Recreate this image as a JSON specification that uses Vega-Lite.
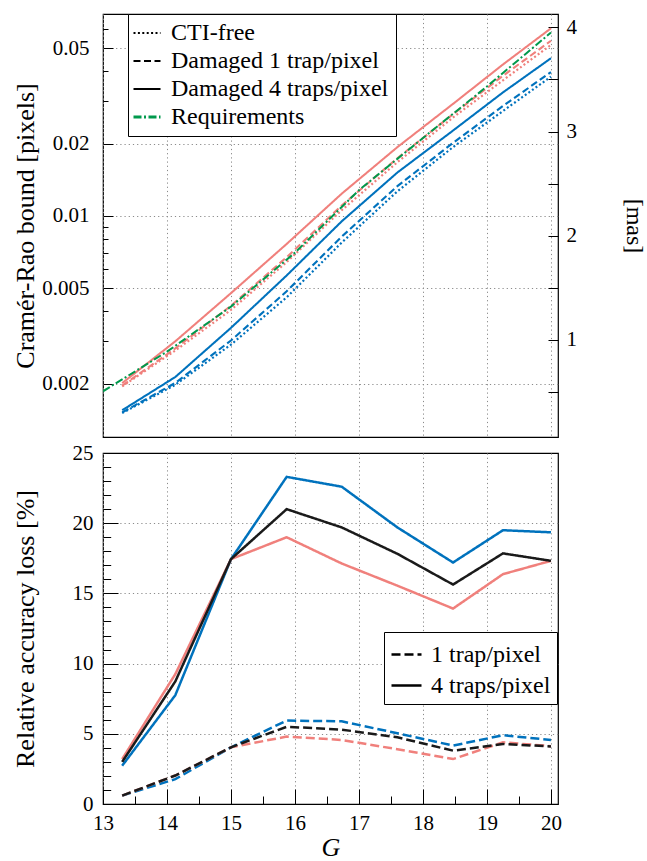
{
  "$schema": "https://vega.github.io/schema/vega-lite/v6.json",
  "background": "white",
  "padding": {"left": 11, "top": 12, "right": 0, "bottom": 0},
  "spacing": 16,
  "bounds": "flush",
  "config": {
    "font": "Liberation Serif, DejaVu Serif, serif",
    "view": {"stroke": "black", "strokeWidth": 1.2},
    "axis": {
      "labelFont": "Liberation Serif, DejaVu Serif, serif",
      "titleFont": "Liberation Serif, DejaVu Serif, serif",
      "labelColor": "black",
      "titleColor": "black",
      "titleFontWeight": "normal",
      "labelFontSize": 21,
      "titleFontSize": 26,
      "tickColor": "black",
      "tickWidth": 1,
      "domain": false,
      "gridColor": "#8a8a8a",
      "gridDash": [1.2, 3],
      "gridWidth": 1,
      "labelFlush": false,
      "labelOverlap": false,
      "labelBound": false
    },
    "legend": {
      "labelFont": "Liberation Serif, DejaVu Serif, serif",
      "labelColor": "black",
      "labelFontSize": 24,
      "labelLimit": 400,
      "fillColor": "white",
      "strokeColor": "black",
      "cornerRadius": 0,
      "symbolType": "stroke",
      "symbolStrokeColor": "black",
      "symbolStrokeWidth": 2
    }
  },
  "datasets": {
    "crb": [
      {"G": 13.3, "cfg": "A", "type": "CTI-free", "crb": 0.00151},
      {"G": 14.13, "cfg": "A", "type": "CTI-free", "crb": 0.00198},
      {"G": 15, "cfg": "A", "type": "CTI-free", "crb": 0.00291},
      {"G": 15.87, "cfg": "A", "type": "CTI-free", "crb": 0.00458},
      {"G": 16.73, "cfg": "A", "type": "CTI-free", "crb": 0.00774},
      {"G": 17.6, "cfg": "A", "type": "CTI-free", "crb": 0.01266},
      {"G": 18.47, "cfg": "A", "type": "CTI-free", "crb": 0.01934},
      {"G": 19.25, "cfg": "A", "type": "CTI-free", "crb": 0.02734},
      {"G": 20, "cfg": "A", "type": "CTI-free", "crb": 0.038},
      {"G": 13.3, "cfg": "A", "type": "Damaged 1 trap/pixel", "crb": 0.001519},
      {"G": 14.13, "cfg": "A", "type": "Damaged 1 trap/pixel", "crb": 0.002015},
      {"G": 15, "cfg": "A", "type": "Damaged 1 trap/pixel", "crb": 0.003028},
      {"G": 15.87, "cfg": "A", "type": "Damaged 1 trap/pixel", "crb": 0.004852},
      {"G": 16.73, "cfg": "A", "type": "Damaged 1 trap/pixel", "crb": 0.008196},
      {"G": 17.6, "cfg": "A", "type": "Damaged 1 trap/pixel", "crb": 0.013298},
      {"G": 18.47, "cfg": "A", "type": "Damaged 1 trap/pixel", "crb": 0.020145},
      {"G": 19.25, "cfg": "A", "type": "Damaged 1 trap/pixel", "crb": 0.02868},
      {"G": 20, "cfg": "A", "type": "Damaged 1 trap/pixel", "crb": 0.039733},
      {"G": 13.3, "cfg": "A", "type": "Damaged 4 traps/pixel", "crb": 0.001551},
      {"G": 14.13, "cfg": "A", "type": "Damaged 4 traps/pixel", "crb": 0.002133},
      {"G": 15, "cfg": "A", "type": "Damaged 4 traps/pixel", "crb": 0.003418},
      {"G": 15.87, "cfg": "A", "type": "Damaged 4 traps/pixel", "crb": 0.005647},
      {"G": 16.73, "cfg": "A", "type": "Damaged 4 traps/pixel", "crb": 0.009489},
      {"G": 17.6, "cfg": "A", "type": "Damaged 4 traps/pixel", "crb": 0.015154},
      {"G": 18.47, "cfg": "A", "type": "Damaged 4 traps/pixel", "crb": 0.022666},
      {"G": 19.25, "cfg": "A", "type": "Damaged 4 traps/pixel", "crb": 0.032671},
      {"G": 20, "cfg": "A", "type": "Damaged 4 traps/pixel", "crb": 0.045353},
      {"G": 13.3, "cfg": "B", "type": "CTI-free", "crb": 0.00195},
      {"G": 14.13, "cfg": "B", "type": "CTI-free", "crb": 0.00275},
      {"G": 15, "cfg": "B", "type": "CTI-free", "crb": 0.00406},
      {"G": 15.87, "cfg": "B", "type": "CTI-free", "crb": 0.00642},
      {"G": 16.73, "cfg": "B", "type": "CTI-free", "crb": 0.01056},
      {"G": 17.6, "cfg": "B", "type": "CTI-free", "crb": 0.01673},
      {"G": 18.47, "cfg": "B", "type": "CTI-free", "crb": 0.0257},
      {"G": 19.25, "cfg": "B", "type": "CTI-free", "crb": 0.0367},
      {"G": 20, "cfg": "B", "type": "CTI-free", "crb": 0.0515},
      {"G": 13.3, "cfg": "B", "type": "Damaged 1 trap/pixel", "crb": 0.001962},
      {"G": 14.13, "cfg": "B", "type": "Damaged 1 trap/pixel", "crb": 0.002806},
      {"G": 15, "cfg": "B", "type": "Damaged 1 trap/pixel", "crb": 0.004224},
      {"G": 15.87, "cfg": "B", "type": "Damaged 1 trap/pixel", "crb": 0.006728},
      {"G": 16.73, "cfg": "B", "type": "Damaged 1 trap/pixel", "crb": 0.011042},
      {"G": 17.6, "cfg": "B", "type": "Damaged 1 trap/pixel", "crb": 0.017382},
      {"G": 18.47, "cfg": "B", "type": "Damaged 1 trap/pixel", "crb": 0.026522},
      {"G": 19.25, "cfg": "B", "type": "Damaged 1 trap/pixel", "crb": 0.038311},
      {"G": 20, "cfg": "B", "type": "Damaged 1 trap/pixel", "crb": 0.053622},
      {"G": 13.3, "cfg": "B", "type": "Damaged 4 traps/pixel", "crb": 0.002012},
      {"G": 14.13, "cfg": "B", "type": "Damaged 4 traps/pixel", "crb": 0.003004},
      {"G": 15, "cfg": "B", "type": "Damaged 4 traps/pixel", "crb": 0.004768},
      {"G": 15.87, "cfg": "B", "type": "Damaged 4 traps/pixel", "crb": 0.00764},
      {"G": 16.73, "cfg": "B", "type": "Damaged 4 traps/pixel", "crb": 0.012369},
      {"G": 17.6, "cfg": "B", "type": "Damaged 4 traps/pixel", "crb": 0.019331},
      {"G": 18.47, "cfg": "B", "type": "Damaged 4 traps/pixel", "crb": 0.029277},
      {"G": 19.25, "cfg": "B", "type": "Damaged 4 traps/pixel", "crb": 0.042708},
      {"G": 20, "cfg": "B", "type": "Damaged 4 traps/pixel", "crb": 0.06042},
      {"G": 13, "cfg": "req", "type": "Requirements", "crb": 0.00186},
      {"G": 14, "cfg": "req", "type": "Requirements", "crb": 0.00272},
      {"G": 15, "cfg": "req", "type": "Requirements", "crb": 0.00419},
      {"G": 16, "cfg": "req", "type": "Requirements", "crb": 0.00703},
      {"G": 17, "cfg": "req", "type": "Requirements", "crb": 0.0128},
      {"G": 18, "cfg": "req", "type": "Requirements", "crb": 0.0211},
      {"G": 19, "cfg": "req", "type": "Requirements", "crb": 0.0346},
      {"G": 20, "cfg": "req", "type": "Requirements", "crb": 0.058}
    ],
    "masRange": [
      {"mas": 0.068},
      {"mas": 4.128}
    ],
    "loss": [
      {"G": 13.3, "cfg": "A", "traps": "4 traps/pixel", "loss": 2.73},
      {"G": 14.13, "cfg": "A", "traps": "4 traps/pixel", "loss": 7.75},
      {"G": 15, "cfg": "A", "traps": "4 traps/pixel", "loss": 17.44},
      {"G": 15.87, "cfg": "A", "traps": "4 traps/pixel", "loss": 23.3},
      {"G": 16.73, "cfg": "A", "traps": "4 traps/pixel", "loss": 22.6},
      {"G": 17.6, "cfg": "A", "traps": "4 traps/pixel", "loss": 19.7},
      {"G": 18.47, "cfg": "A", "traps": "4 traps/pixel", "loss": 17.2},
      {"G": 19.25, "cfg": "A", "traps": "4 traps/pixel", "loss": 19.5},
      {"G": 20, "cfg": "A", "traps": "4 traps/pixel", "loss": 19.35},
      {"G": 13.3, "cfg": "A", "traps": "1 trap/pixel", "loss": 0.6},
      {"G": 14.13, "cfg": "A", "traps": "1 trap/pixel", "loss": 1.77},
      {"G": 15, "cfg": "A", "traps": "1 trap/pixel", "loss": 4.04},
      {"G": 15.87, "cfg": "A", "traps": "1 trap/pixel", "loss": 5.94},
      {"G": 16.73, "cfg": "A", "traps": "1 trap/pixel", "loss": 5.89},
      {"G": 17.6, "cfg": "A", "traps": "1 trap/pixel", "loss": 5.04},
      {"G": 18.47, "cfg": "A", "traps": "1 trap/pixel", "loss": 4.16},
      {"G": 19.25, "cfg": "A", "traps": "1 trap/pixel", "loss": 4.9},
      {"G": 20, "cfg": "A", "traps": "1 trap/pixel", "loss": 4.56},
      {"G": 13.3, "cfg": "B", "traps": "4 traps/pixel", "loss": 3.2},
      {"G": 14.13, "cfg": "B", "traps": "4 traps/pixel", "loss": 9.25},
      {"G": 15, "cfg": "B", "traps": "4 traps/pixel", "loss": 17.44},
      {"G": 15.87, "cfg": "B", "traps": "4 traps/pixel", "loss": 19.0},
      {"G": 16.73, "cfg": "B", "traps": "4 traps/pixel", "loss": 17.13},
      {"G": 17.6, "cfg": "B", "traps": "4 traps/pixel", "loss": 15.55},
      {"G": 18.47, "cfg": "B", "traps": "4 traps/pixel", "loss": 13.92},
      {"G": 19.25, "cfg": "B", "traps": "4 traps/pixel", "loss": 16.37},
      {"G": 20, "cfg": "B", "traps": "4 traps/pixel", "loss": 17.32},
      {"G": 13.3, "cfg": "B", "traps": "1 trap/pixel", "loss": 0.6},
      {"G": 14.13, "cfg": "B", "traps": "1 trap/pixel", "loss": 2.03},
      {"G": 15, "cfg": "B", "traps": "1 trap/pixel", "loss": 4.04},
      {"G": 15.87, "cfg": "B", "traps": "1 trap/pixel", "loss": 4.8},
      {"G": 16.73, "cfg": "B", "traps": "1 trap/pixel", "loss": 4.56},
      {"G": 17.6, "cfg": "B", "traps": "1 trap/pixel", "loss": 3.9},
      {"G": 18.47, "cfg": "B", "traps": "1 trap/pixel", "loss": 3.2},
      {"G": 19.25, "cfg": "B", "traps": "1 trap/pixel", "loss": 4.39},
      {"G": 20, "cfg": "B", "traps": "1 trap/pixel", "loss": 4.12},
      {"G": 13.3, "cfg": "mean", "traps": "4 traps/pixel", "loss": 3.0},
      {"G": 14.13, "cfg": "mean", "traps": "4 traps/pixel", "loss": 8.73},
      {"G": 15, "cfg": "mean", "traps": "4 traps/pixel", "loss": 17.44},
      {"G": 15.87, "cfg": "mean", "traps": "4 traps/pixel", "loss": 21.0},
      {"G": 16.73, "cfg": "mean", "traps": "4 traps/pixel", "loss": 19.7},
      {"G": 17.6, "cfg": "mean", "traps": "4 traps/pixel", "loss": 17.82},
      {"G": 18.47, "cfg": "mean", "traps": "4 traps/pixel", "loss": 15.63},
      {"G": 19.25, "cfg": "mean", "traps": "4 traps/pixel", "loss": 17.85},
      {"G": 20, "cfg": "mean", "traps": "4 traps/pixel", "loss": 17.32},
      {"G": 13.3, "cfg": "mean", "traps": "1 trap/pixel", "loss": 0.6},
      {"G": 14.13, "cfg": "mean", "traps": "1 trap/pixel", "loss": 2.03},
      {"G": 15, "cfg": "mean", "traps": "1 trap/pixel", "loss": 4.04},
      {"G": 15.87, "cfg": "mean", "traps": "1 trap/pixel", "loss": 5.5},
      {"G": 16.73, "cfg": "mean", "traps": "1 trap/pixel", "loss": 5.3},
      {"G": 17.6, "cfg": "mean", "traps": "1 trap/pixel", "loss": 4.75},
      {"G": 18.47, "cfg": "mean", "traps": "1 trap/pixel", "loss": 3.8},
      {"G": 19.25, "cfg": "mean", "traps": "1 trap/pixel", "loss": 4.27},
      {"G": 20, "cfg": "mean", "traps": "1 trap/pixel", "loss": 4.1}
    ]
  },
  "vconcat": [
    {
      "width": 455,
      "height": 423,
      "layer": [
        {
          "data": {"name": "crb"},
          "mark": {"type": "line", "clip": true},
          "encoding": {
            "x": {
              "field": "G",
              "type": "quantitative",
              "scale": {"domain": [13, 20.11], "nice": false, "zero": false},
              "axis": {
                "title": null,
                "values": [13, 14, 15, 16, 17, 18, 19, 20],
                "labels": false,
                "ticks": false,
                "grid": true
              }
            },
            "y": {
              "field": "crb",
              "type": "quantitative",
              "scale": {"type": "log", "domain": [0.0012, 0.0693], "nice": false},
              "axis": {
                "title": "Cramér-Rao bound [pixels]",
                "titleX": -65,
                "titleY": 211.5,
                "values": [0.002, 0.003, 0.004, 0.005, 0.006, 0.007, 0.008, 0.009, 0.01, 0.02, 0.03, 0.04, 0.05, 0.06],
                "labelExpr": "indexof([0.002, 0.005, 0.01, 0.02, 0.05], datum.value) >= 0 ? toString(datum.value) : ''",
                "labelPadding": 24,
                "tickSize": {"condition": {"test": "indexof([0.002, 0.005, 0.01, 0.02, 0.05], datum.value) >= 0", "value": -10}, "value": -5},
                "grid": true,
                "gridOpacity": {"condition": {"test": "indexof([0.002, 0.005, 0.01, 0.02, 0.05], datum.value) >= 0", "value": 1}, "value": 0}
              }
            },
            "color": {
              "field": "cfg",
              "type": "nominal",
              "scale": {"domain": ["A", "B", "req"], "range": ["#0072BD", "#F0807C", "#00994C"]},
              "legend": null
            },
            "strokeDash": {
              "field": "type",
              "type": "nominal",
              "scale": {
                "domain": ["CTI-free", "Damaged 1 trap/pixel", "Damaged 4 traps/pixel", "Requirements"],
                "range": [[2, 2.4], [7, 3.5], [1, 0], [8, 2.5, 2, 2.5]]
              },
              "legend": {
                "title": null,
                "orient": "none",
                "legendX": 25,
                "legendY": 0,
                "direction": "vertical",
                "padding": 7,
                "rowPadding": 4,
                "labelOffset": 12,
                "symbolSize": 729,
                "encode": {
                  "symbols": {
                    "update": {
                      "stroke": {"signal": "datum.label === 'Requirements' ? '#00994C' : 'black'"},
                      "strokeWidth": {"signal": "datum.label === 'Requirements' ? 3 : 2"}
                    }
                  }
                }
              }
            },
            "strokeWidth": {
              "field": "type",
              "type": "nominal",
              "scale": {
                "domain": ["CTI-free", "Damaged 1 trap/pixel", "Damaged 4 traps/pixel", "Requirements"],
                "range": [2.2, 2, 2, 3]
              },
              "legend": null
            }
          }
        },
        {
          "data": {"name": "masRange"},
          "mark": {"type": "tick", "opacity": 0},
          "encoding": {
            "y": {
              "field": "mas",
              "type": "quantitative",
              "scale": {"domain": [0.068, 4.128], "nice": false, "zero": false},
              "axis": {
                "orient": "right",
                "title": "[mas]",
                "titleFontSize": 24,
                "titleAngle": 90,
                "titleX": 63,
                "titleY": 211.5,
                "values": [0.5, 1, 1.5, 2, 2.5, 3, 3.5, 4],
                "labelExpr": "datum.value % 1 === 0 ? toString(datum.value) : ''",
                "labelPadding": 18,
                "tickSize": -10,
                "grid": false
              }
            }
          }
        }
      ],
      "resolve": {"scale": {"y": "independent"}}
    },
    {
      "width": 455,
      "height": 351,
      "data": {"name": "loss"},
      "mark": {"type": "line", "strokeWidth": 2.5},
      "encoding": {
        "x": {
          "field": "G",
          "type": "quantitative",
          "scale": {"domain": [13, 20.11], "nice": false, "zero": false},
          "axis": {
            "title": "G",
            "titleFontStyle": "italic",
            "titleFontSize": 26,
            "titleBaseline": "top",
            "titleX": 227.5,
            "titleY": 30,
            "values": [13, 13.5, 14, 14.5, 15, 15.5, 16, 16.5, 17, 17.5, 18, 18.5, 19, 19.5, 20],
            "labelExpr": "datum.value % 1 === 0 ? toString(datum.value) : ''",
            "labelPadding": 23.6,
            "tickSize": {"condition": {"test": "datum.value % 1 === 0", "value": -15}, "value": -8},
            "grid": true,
            "gridOpacity": {"condition": {"test": "datum.value % 1 === 0", "value": 1}, "value": 0}
          }
        },
        "y": {
          "field": "loss",
          "type": "quantitative",
          "scale": {"domain": [0, 25], "nice": false, "zero": false},
          "axis": {
            "title": "Relative accuracy loss [%]",
            "titleX": -65,
            "titleY": 175.5,
            "values": [0, 1, 2, 3, 4, 5, 6, 7, 8, 9, 10, 11, 12, 13, 14, 15, 16, 17, 18, 19, 20, 21, 22, 23, 24, 25],
            "labelExpr": "datum.value % 5 === 0 ? toString(datum.value) : ''",
            "labelPadding": 25,
            "tickSize": {"condition": {"test": "datum.value % 5 === 0", "value": -15}, "value": -7.7},
            "grid": true,
            "gridOpacity": {"condition": {"test": "datum.value % 5 === 0 && datum.value > 0 && datum.value < 25", "value": 1}, "value": 0}
          }
        },
        "color": {
          "field": "cfg",
          "type": "nominal",
          "scale": {"domain": ["A", "B", "mean"], "range": ["#0072BD", "#F0807C", "#1a1a1a"]},
          "legend": null
        },
        "strokeDash": {
          "field": "traps",
          "type": "nominal",
          "scale": {"domain": ["1 trap/pixel", "4 traps/pixel"], "range": [[9, 4], [1, 0]]},
          "legend": {
            "title": null,
            "orient": "none",
            "legendX": 281,
            "legendY": 179,
            "direction": "vertical",
            "padding": 6,
            "rowPadding": 2,
            "labelOffset": 8,
            "symbolSize": 900,
            "symbolStrokeWidth": 2.5
          }
        }
      }
    }
  ],
  "resolve": {
    "scale": {"x": "independent", "color": "independent", "strokeDash": "independent"}
  }
}
